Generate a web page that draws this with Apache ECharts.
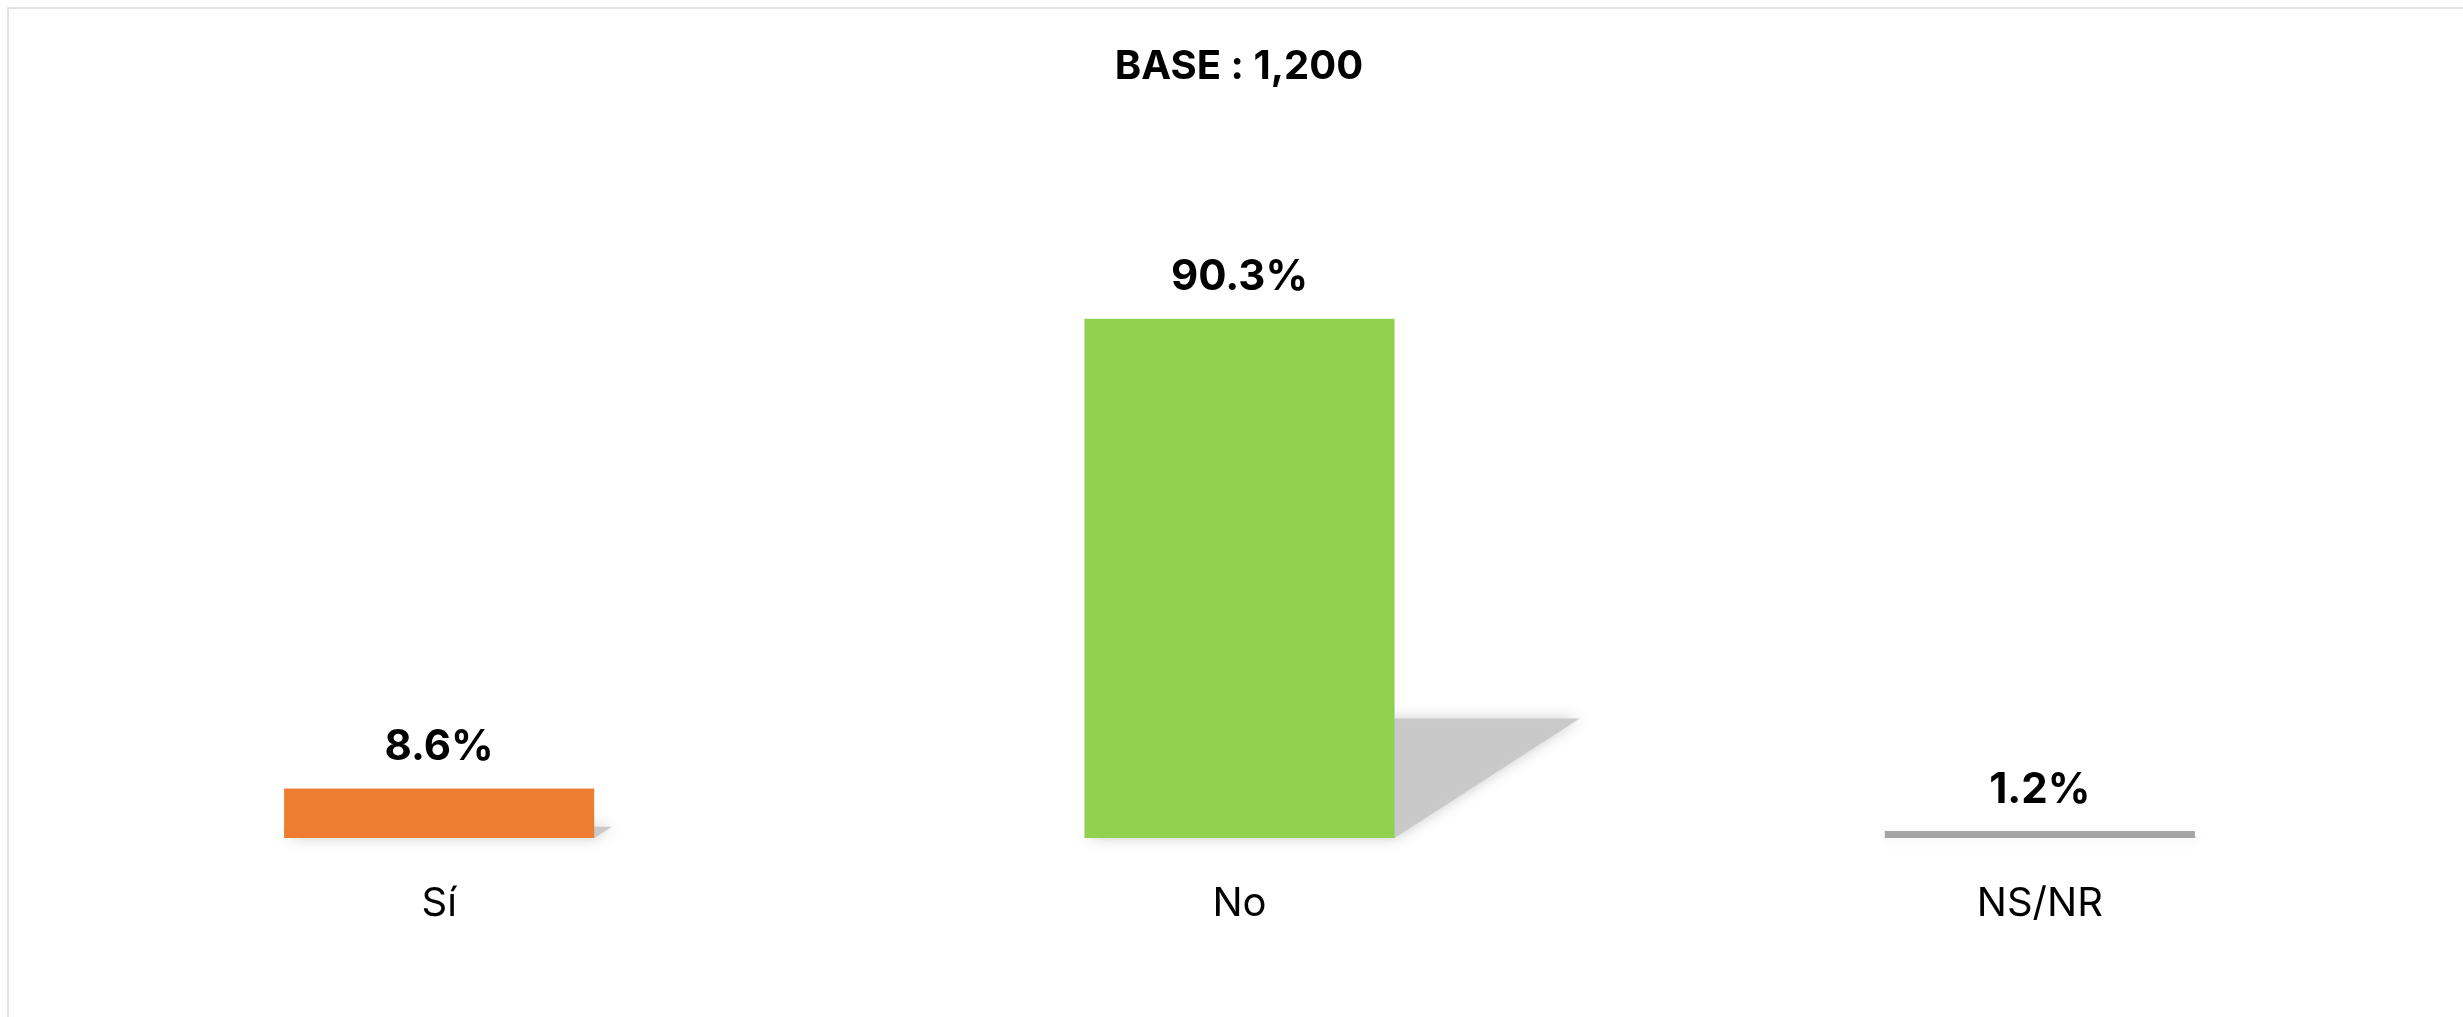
<!DOCTYPE html>
<html>
<head>
<meta charset="utf-8">
<script src="https://cdn.jsdelivr.net/npm/echarts@6/dist/echarts.min.js"></script>
<style>
  html,body{margin:0;padding:0;background:#fff;overflow:hidden;}
  #marco{position:absolute;left:7px;top:7px;width:2600px;height:1100px;border:2px solid #e3e3e3;box-sizing:border-box;}
  #container1{position:absolute;left:0;top:0;width:2463px;height:1017px;}
</style>
</head>
<body>
<div id="marco"></div>
<div id="container1"></div>
<script>
// datos
var categorias=['Sí','No','NS/NR'];
var valores=[8.6,90.3,1.2];
var colores=['#ED7D31','#92D050','#A5A5A5'];
var titulo='BASE : 1,200';

var myChart=echarts.init(document.getElementById('container1'));

// sombra inclinada detras de cada barra
function sombra(params,api){
  var idx=api.value(0);
  var base=api.coord([idx,0]);
  var tope=api.coord([idx,api.value(1)]);
  var medio=api.size([1,0])[0]*0.3875/2;
  var xl=base[0]-medio, xr=base[0]+medio, yb=base[1];
  var sh=(yb-tope[1])*0.23;
  var dx=sh*1.55;
  return {
    type:'polygon',
    shape:{points:[[xl,yb],[xr,yb],[xr+dx,yb-sh],[xl+dx,yb-sh]]},
    style:{fill:'rgba(200,200,200,0.95)',shadowBlur:14,shadowColor:'rgba(200,200,200,1)'}
  };
}

var option={
  animation:false,
  title:{
    text:titulo,
    left:1234,
    top:42,
    textAlign:'center',
    textStyle:{color:'#000',fontSize:40,fontWeight:'bold',fontFamily:'Inter'}
  },
  grid:{left:39,right:23,top:263,bottom:179},
  xAxis:{
    type:'category',
    data:categorias,
    axisLine:{show:false},
    axisTick:{show:false},
    axisLabel:{color:'#000',fontSize:40,fontFamily:'Inter',margin:46}
  },
  yAxis:{
    type:'value',min:0,max:100,
    show:false
  },
  series:[{
    type:'custom',
    z:1,
    silent:true,
    renderItem:sombra,
    data:valores.map(function(v,i){return [i,v];})
  },{
    type:'bar',
    z:2,
    barWidth:'38.75%',
    data:valores.map(function(v,i){return {value:v,itemStyle:{color:colores[i]}};}),
    label:{
      show:true,
      position:'top',
      distance:20,
      color:'#000',
      fontSize:42,
      fontWeight:'bold',
      fontFamily:'Inter',
      formatter:function(p){return p.value.toFixed(1)+'%';}
    }
  }]
};
myChart.setOption(option);
</script>
</body>
</html>
